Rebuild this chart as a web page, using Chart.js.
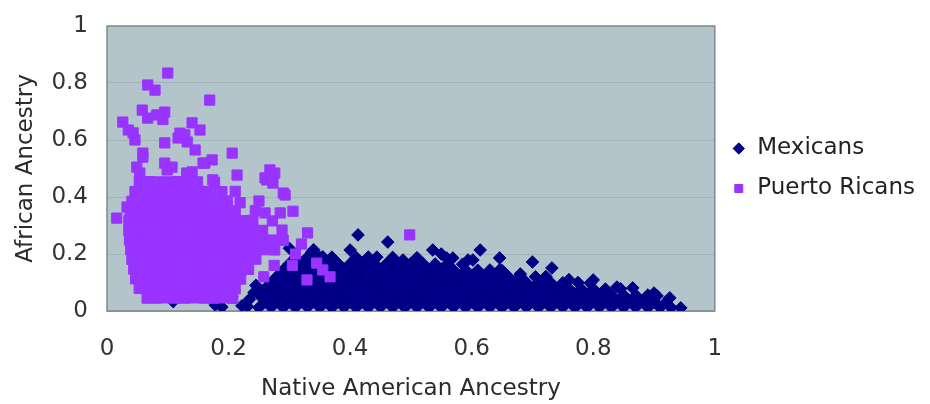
<!DOCTYPE html>
<html>
<head>
<meta charset="utf-8">
<script src="https://cdn.jsdelivr.net/npm/chart.js@4.4.1/dist/chart.umd.min.js"></script>
<style>
  html, body { margin: 0; padding: 0; background: #fff; }
</style>
</head>
<body>
<canvas id="chart" width="930" height="404"></canvas>
<script>
const seriesNames = ["Mexicans", "Puerto Ricans"];
const xTitle = "Native American Ancestry";
const yTitle = "African Ancestry";
const xTicks = [0, 0.2, 0.4, 0.6, 0.8, 1];
const yTicks = [0, 0.2, 0.4, 0.6, 0.8, 1];

// [native american, african] per person
const mexicans = [
  [0.25,0.012],[0.27,0.013],[0.29,0.012],[0.31,0.012],[0.33,0.013],[0.35,0.012],[0.37,0.012],[0.39,0.013],[0.41,0.012],[0.43,0.012],
  [0.45,0.013],[0.47,0.012],[0.49,0.012],[0.51,0.013],[0.53,0.012],[0.55,0.012],[0.57,0.013],[0.59,0.012],[0.61,0.012],[0.63,0.013],
  [0.65,0.012],[0.67,0.012],[0.69,0.013],[0.71,0.012],[0.73,0.012],[0.75,0.013],[0.77,0.012],[0.79,0.012],[0.81,0.013],[0.83,0.012],
  [0.85,0.012],[0.87,0.013],[0.89,0.012],[0.91,0.012],[0.928,0.012],[0.944,0.011],
  [0.26,0.034],[0.28,0.035],[0.3,0.034],[0.32,0.034],[0.34,0.035],[0.36,0.034],[0.38,0.034],[0.4,0.035],[0.42,0.034],[0.44,0.034],
  [0.46,0.035],[0.48,0.034],[0.5,0.034],[0.52,0.035],[0.54,0.034],[0.56,0.034],[0.58,0.035],[0.6,0.034],[0.62,0.034],[0.64,0.035],
  [0.66,0.034],[0.68,0.034],[0.7,0.035],[0.72,0.034],[0.74,0.034],[0.76,0.035],[0.78,0.034],[0.8,0.034],[0.82,0.035],[0.84,0.034],
  [0.86,0.034],[0.88,0.035],[0.9,0.034],[0.92,0.032],
  [0.25,0.056],[0.27,0.057],[0.29,0.056],[0.31,0.056],[0.33,0.057],[0.35,0.056],[0.37,0.056],[0.39,0.057],[0.41,0.056],[0.43,0.056],
  [0.45,0.057],[0.47,0.056],[0.49,0.056],[0.51,0.057],[0.53,0.056],[0.55,0.056],[0.57,0.057],[0.59,0.056],[0.61,0.056],[0.63,0.057],
  [0.65,0.056],[0.67,0.056],[0.69,0.057],[0.71,0.056],[0.73,0.056],[0.75,0.057],[0.77,0.056],[0.79,0.056],[0.81,0.057],[0.83,0.056],
  [0.85,0.056],[0.87,0.055],[0.89,0.056],[0.905,0.053],
  [0.26,0.078],[0.28,0.079],[0.3,0.078],[0.32,0.078],[0.34,0.079],[0.36,0.078],[0.38,0.078],[0.4,0.079],[0.42,0.078],[0.44,0.078],
  [0.46,0.079],[0.48,0.078],[0.5,0.078],[0.52,0.079],[0.54,0.078],[0.56,0.078],[0.58,0.079],[0.6,0.078],[0.62,0.078],[0.64,0.079],
  [0.66,0.078],[0.68,0.078],[0.7,0.079],[0.72,0.078],[0.74,0.078],[0.76,0.079],[0.78,0.078],[0.8,0.078],[0.82,0.077],[0.845,0.078],
  [0.27,0.1],[0.29,0.101],[0.31,0.1],[0.33,0.1],[0.35,0.101],[0.37,0.1],[0.39,0.1],[0.41,0.101],[0.43,0.1],[0.45,0.1],
  [0.47,0.101],[0.49,0.1],[0.51,0.1],[0.53,0.101],[0.55,0.1],[0.57,0.1],[0.59,0.101],[0.61,0.1],[0.63,0.1],[0.65,0.101],
  [0.67,0.1],[0.69,0.1],[0.71,0.101],[0.73,0.1],[0.75,0.099],[0.775,0.1],[0.795,0.098],
  [0.28,0.122],[0.3,0.123],[0.32,0.122],[0.34,0.122],[0.36,0.123],[0.38,0.122],[0.4,0.122],[0.42,0.123],[0.44,0.122],[0.46,0.122],
  [0.48,0.123],[0.5,0.122],[0.52,0.122],[0.54,0.123],[0.56,0.122],[0.58,0.122],[0.6,0.123],[0.62,0.122],[0.64,0.122],[0.66,0.121],
  [0.68,0.122],[0.705,0.12],[0.722,0.121],
  [0.29,0.144],[0.31,0.145],[0.33,0.144],[0.35,0.144],[0.37,0.145],[0.39,0.144],[0.41,0.144],[0.43,0.145],[0.45,0.144],[0.47,0.144],
  [0.49,0.145],[0.51,0.144],[0.53,0.144],[0.55,0.145],[0.57,0.144],[0.59,0.144],[0.61,0.143],[0.63,0.144],[0.65,0.142],
  [0.3,0.166],[0.32,0.167],[0.34,0.166],[0.36,0.166],[0.38,0.167],[0.4,0.166],[0.42,0.166],[0.44,0.167],[0.46,0.166],[0.48,0.166],
  [0.5,0.167],[0.52,0.166],[0.54,0.165],[0.56,0.166],[0.585,0.164],
  [0.31,0.188],[0.33,0.189],[0.35,0.188],[0.37,0.189],[0.41,0.188],[0.43,0.189],[0.47,0.188],[0.51,0.187],
  [0.413,0.267],[0.462,0.242],[0.4,0.214],[0.536,0.214],[0.614,0.214],[0.646,0.186],[0.7,0.172],[0.732,0.151],[0.8,0.109],[0.569,0.186],
  [0.602,0.179],[0.646,0.144],[0.487,0.179],[0.444,0.189],[0.839,0.084],[0.865,0.081],[0.9,0.063],[0.926,0.046],[0.68,0.13],[0.76,0.11],
  [0.55,0.2],[0.34,0.215],[0.3,0.22],[0.355,0.19],[0.337,0.207],[0.559,0.186],[0.594,0.179],
  [0.109,0.033],[0.158,0.05],[0.178,0.021],[0.205,0.05],[0.222,0.018],[0.189,0.014],[0.234,0.04],[0.231,0.016],[0.242,0.065],[0.245,0.09]
];

const puertoRicans = [
  [0.1,0.835],[0.067,0.793],[0.079,0.775],[0.169,0.74],[0.058,0.705],[0.067,0.677],[0.082,0.688],[0.095,0.698],[0.092,0.672],[0.026,0.663],
  [0.035,0.635],[0.046,0.6],[0.14,0.66],[0.153,0.635],[0.128,0.618],[0.117,0.607],[0.132,0.593],[0.095,0.59],[0.145,0.565],[0.206,0.554],
  [0.173,0.53],[0.161,0.519],[0.107,0.505],[0.095,0.519],[0.14,0.488],[0.214,0.477],[0.268,0.495],[0.26,0.467],[0.276,0.484],[0.059,0.54],
  [0.049,0.505],[0.043,0.625],[0.12,0.624],[0.158,0.519],[0.263,0.46],[0.29,0.414],[0.099,0.495],[0.131,0.484],[0.174,0.46],[0.059,0.554],
  [0.054,0.484],[0.306,0.35],[0.285,0.344],[0.219,0.38],[0.273,0.449],[0.016,0.326],[0.033,0.365],[0.33,0.274],[0.293,0.407],[0.26,0.344],
  [0.498,0.267],[0.355,0.144],[0.367,0.12],[0.345,0.168],[0.329,0.109],[0.31,0.2],[0.32,0.235],[0.305,0.16],[0.275,0.16],[0.258,0.12],
  [0.066,0.045],[0.081,0.045],[0.097,0.046],[0.112,0.045],[0.128,0.045],[0.144,0.046],[0.16,0.045],[0.175,0.045],[0.191,0.046],[0.207,0.044],
  [0.053,0.079],[0.069,0.08],[0.084,0.079],[0.1,0.079],[0.116,0.08],[0.131,0.079],[0.147,0.079],[0.163,0.08],[0.178,0.079],[0.194,0.079],
  [0.211,0.078],
  [0.047,0.113],[0.063,0.114],[0.078,0.113],[0.094,0.113],[0.11,0.114],[0.125,0.113],[0.141,0.113],[0.157,0.114],[0.172,0.113],[0.188,0.113],
  [0.204,0.114],[0.22,0.112],
  [0.044,0.147],[0.06,0.148],[0.075,0.147],[0.091,0.147],[0.107,0.148],[0.122,0.147],[0.138,0.147],[0.154,0.148],[0.169,0.147],[0.185,0.147],
  [0.201,0.148],[0.217,0.147],[0.233,0.146],
  [0.041,0.181],[0.057,0.182],[0.072,0.181],[0.088,0.181],[0.104,0.182],[0.119,0.181],[0.135,0.181],[0.151,0.182],[0.166,0.181],[0.182,0.181],
  [0.198,0.182],[0.214,0.181],[0.229,0.181],[0.245,0.182],
  [0.039,0.215],[0.055,0.216],[0.07,0.215],[0.086,0.215],[0.102,0.216],[0.117,0.215],[0.133,0.215],[0.149,0.216],[0.164,0.215],[0.18,0.215],
  [0.196,0.216],[0.212,0.215],[0.227,0.215],[0.243,0.216],[0.259,0.215],[0.276,0.214],
  [0.037,0.249],[0.053,0.25],[0.068,0.249],[0.084,0.249],[0.1,0.25],[0.115,0.249],[0.131,0.249],[0.147,0.25],[0.162,0.249],[0.178,0.249],
  [0.194,0.25],[0.21,0.249],[0.225,0.249],[0.241,0.25],[0.257,0.249],[0.273,0.249],[0.29,0.248],
  [0.036,0.283],[0.052,0.284],[0.067,0.283],[0.083,0.283],[0.099,0.284],[0.114,0.283],[0.13,0.283],[0.146,0.284],[0.161,0.283],[0.177,0.283],
  [0.193,0.284],[0.209,0.283],[0.224,0.283],[0.24,0.284],[0.256,0.283],[0.288,0.284],
  [0.036,0.317],[0.052,0.318],[0.067,0.317],[0.083,0.317],[0.099,0.318],[0.114,0.317],[0.13,0.317],[0.146,0.318],[0.161,0.317],[0.177,0.317],
  [0.193,0.318],[0.209,0.317],[0.224,0.317],[0.24,0.318],[0.272,0.316],
  [0.038,0.351],[0.054,0.352],[0.069,0.351],[0.085,0.351],[0.101,0.352],[0.116,0.351],[0.132,0.351],[0.148,0.352],[0.163,0.351],[0.179,0.351],
  [0.195,0.352],[0.211,0.351],[0.244,0.352],
  [0.041,0.385],[0.057,0.386],[0.072,0.385],[0.088,0.385],[0.104,0.386],[0.119,0.385],[0.135,0.385],[0.151,0.386],[0.166,0.385],[0.182,0.385],
  [0.198,0.386],[0.25,0.386],
  [0.046,0.419],[0.062,0.42],[0.077,0.419],[0.093,0.419],[0.109,0.42],[0.124,0.419],[0.14,0.419],[0.156,0.42],[0.171,0.419],[0.189,0.419],
  [0.211,0.42],
  [0.053,0.453],[0.069,0.454],[0.084,0.453],[0.1,0.453],[0.116,0.454],[0.132,0.453],[0.149,0.453],[0.177,0.452]
];

const toPoints = rows => rows.map(([x, y]) => ({ x, y }));

// grey-blue plot background and its frame
const plotFrame = {
  id: "plotFrame",
  beforeDraw(chart) {
    const { ctx, chartArea: a } = chart;
    ctx.save();
    ctx.fillStyle = "#b3c4cb";
    ctx.fillRect(a.left, a.top, a.width, a.height);
    ctx.restore();
  },
  beforeDatasetsDraw(chart) {
    const { ctx, chartArea: a } = chart;
    ctx.save();
    ctx.strokeStyle = "#7e8b90";
    ctx.lineWidth = 1.5;
    ctx.strokeRect(a.left, a.top, a.width, a.height);
    ctx.restore();
  }
};

Chart.defaults.font.family = "'DejaVu Sans', sans-serif";
Chart.defaults.font.size = 23;
Chart.defaults.color = "#2b2b2b";

const tickText = v => String(Math.round(v * 10) / 10);
const ctx = document.querySelector("#chart").getContext("2d");

new Chart(ctx, {
  type: "scatter",
  data: {
    datasets: [
      {
        label: seriesNames[0],
        data: toPoints(mexicans),
        pointStyle: "rectRot",
        pointRadius: 6.3,
        pointHoverRadius: 6.3,
        backgroundColor: "#000086",
        borderColor: "#000086",
        pointBorderColor: "#000086",
        pointBorderWidth: 1,
        order: 1
      },
      {
        label: seriesNames[1],
        data: toPoints(puertoRicans),
        pointStyle: "rect",
        pointRadius: 7.2,
        pointHoverRadius: 7.2,
        backgroundColor: "#9933ff",
        borderColor: "#9933ff",
        pointBorderColor: "#9933ff",
        pointBorderWidth: 1,
        order: 0
      }
    ]
  },
  options: {
    responsive: false,
    animation: false,
    layout: { padding: { left: 8, right: 5, top: 26, bottom: 0 } },
    plugins: {
      tooltip: { enabled: false },
      legend: {
        position: "right",
        fullSize: false,
        labels: {
          usePointStyle: true,
          boxWidth: 14,
          boxHeight: 8,
          padding: 17,
          color: "#222",
          sort: (a, b) => a.datasetIndex - b.datasetIndex
        }
      }
    },
    scales: {
      x: {
        type: "linear",
        min: xTicks[0],
        max: xTicks[xTicks.length - 1],
        afterBuildTicks: s => { s.ticks = xTicks.map(v => ({ value: v })); },
        ticks: { padding: 24, color: "#333", callback: tickText },
        grid: { display: false, drawTicks: false },
        border: { display: false },
        title: { display: true, text: xTitle, color: "#2b2b2b", padding: { top: 0, bottom: 1 } },
        afterFit: s => { s.height = 93; s.paddingLeft = 0; s.paddingRight = 0; }
      },
      y: {
        type: "linear",
        min: yTicks[0],
        max: yTicks[yTicks.length - 1],
        afterBuildTicks: s => { s.ticks = yTicks.map(v => ({ value: v })); },
        ticks: { padding: 19, color: "#333", callback: tickText },
        grid: { color: "#a2b3ba", lineWidth: 1, drawTicks: false },
        border: { display: false },
        title: { display: true, text: yTitle, color: "#2b2b2b", padding: { top: 4, bottom: 4 } },
        afterFit: s => { s.width = 99; s.paddingTop = 0; s.paddingBottom = 0; }
      }
    }
  },
  plugins: [plotFrame]
});
</script>
</body>
</html>
